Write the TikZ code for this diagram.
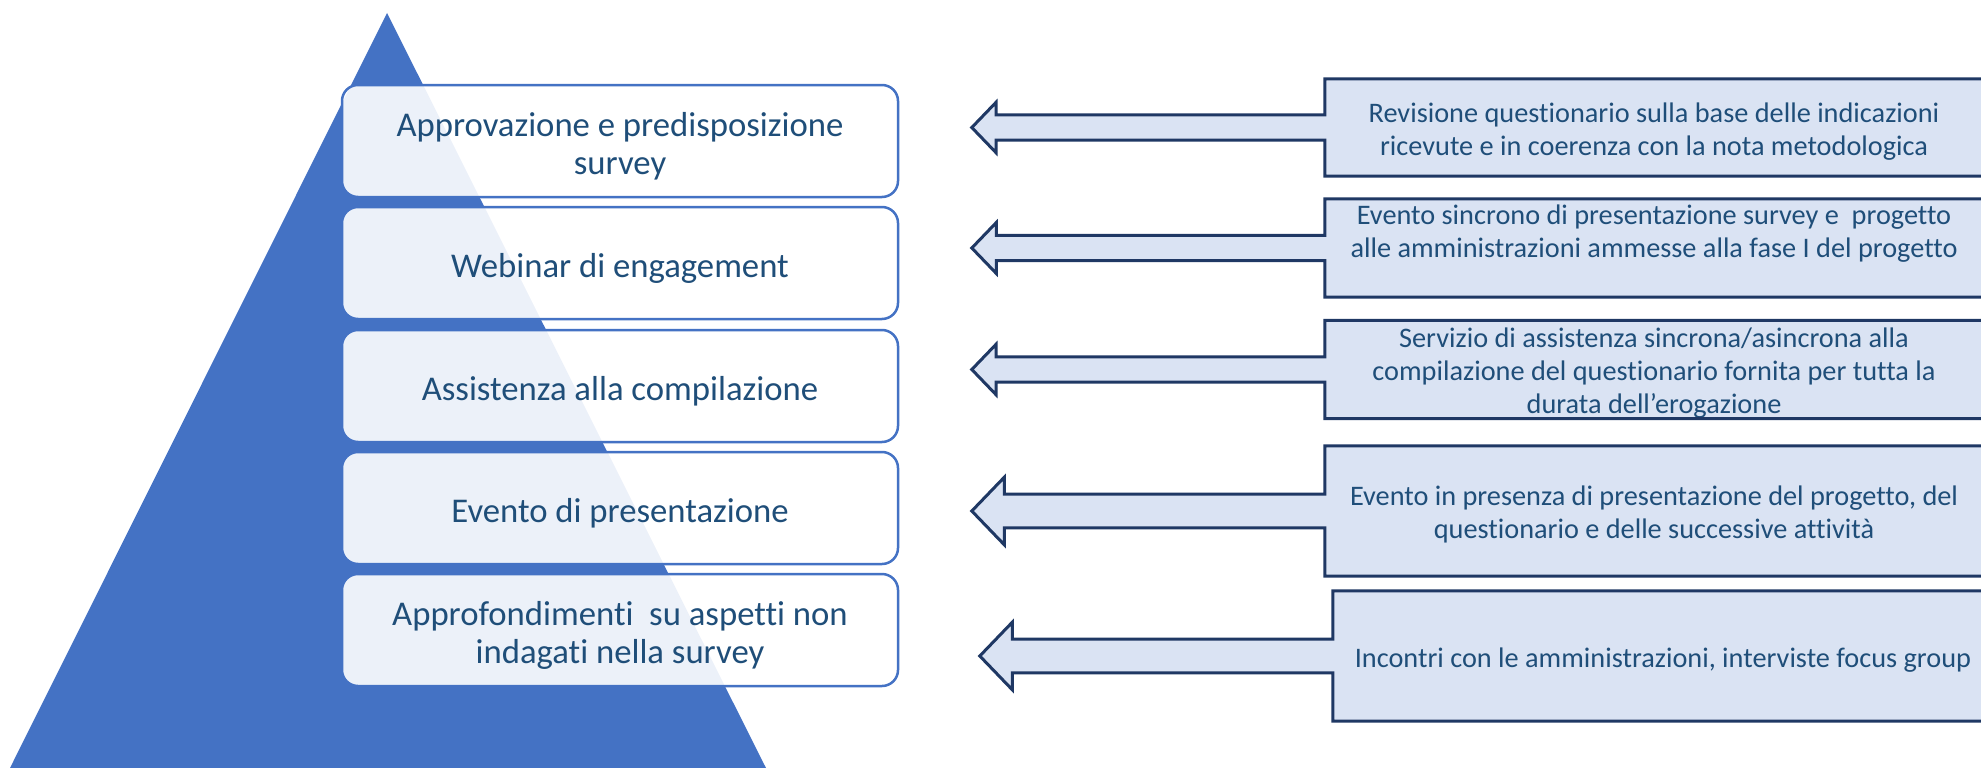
\documentclass[tikz,border=0pt]{standalone}
\usepackage{fontspec}
\setmainfont{Carlito}[Ligatures={NoCommon,NoRequired}]
\usetikzlibrary{calc}
\definecolor{pyrblue}{HTML}{4472C4}
\definecolor{navy}{HTML}{1F3864}
\definecolor{notefill}{HTML}{DAE3F3}
\definecolor{txtblue}{HTML}{1F4E79}
\tikzset{%
  lift/.style={execute at begin node={\rule{0pt}{#1}}},
  stepbox/.style={draw=pyrblue,line width=2.5pt,rounded corners=16pt,
    fill=white,fill opacity=0.9,text opacity=1,text=txtblue,align=center,
    minimum width=556pt,minimum height=112pt,inner sep=0pt,
    font=\fontsize{34.7}{38}\selectfont,lift=34pt},
  notebox/.style={fill=notefill,text=txtblue,align=center,inner sep=0pt,
    minimum width=658pt,font=\fontsize{28.3}{33}\selectfont,lift=27pt},
  callout/.style={draw=navy,line width=3pt,line join=miter}}

\begin{document}
\begin{tikzpicture}[x=1pt,y=-1pt]
  \useasboundingbox (0,0) rectangle (1981,768);
  \clip (0,0) rectangle (1981,768);
  % pyramid
  \fill[pyrblue] (387,13) -- (766,768) -- (10,768) -- cycle;
  % steps
  \node[stepbox,lift=72pt] (l1) at (620,141) {Approvazione e predisposizione\\survey};
  \node[stepbox] (l2) at (620,263) {Webinar di engagement};
  \node[stepbox] (l3) at (620,386) {Assistenza alla compilazione};
  \node[stepbox] (l4) at (620,508) {Evento di presentazione};
  \node[stepbox,lift=72pt] (l5) at (620,630) {Approfondimenti\ \ su aspetti non\\indagati nella survey};
  % notes
  \node[notebox,lift=60pt,minimum height=97pt] (r1) at (1654,127.5)
    {Revisione questionario sulla base delle indicazioni\\ricevute e in coerenza con la nota metodologica};
  \node[notebox,minimum height=98pt] (r2) at (1654,248)
    {Evento sincrono di presentazione survey e\ \ progetto\\alle amministrazioni ammesse alla fase I del progetto\\~};
  \node[notebox,lift=93pt,minimum height=97pt] (r3) at (1654,369.5)
    {Servizio di assistenza sincrona/asincrona alla\\compilazione del questionario fornita per tutta la\\durata dell’erogazione};
  \node[notebox,lift=60pt,minimum height=130pt] (r4) at (1654,511)
    {Evento in presenza di presentazione del progetto, del\\questionario e delle successive attività};
  \node[notebox,minimum height=130pt,minimum width=660pt] (r5) at (1663,656)
    {Incontri con le amministrazioni, interviste focus group};
  % callout arrows
  \foreach \n/\h in {r1/97,r2/98,r3/97,r4/130,r5/130}{
    \pgfmathsetmacro{\s}{0.13*\h}
    \pgfmathsetmacro{\a}{0.26*\h}
    \pgfmathsetmacro{\b}{353-0.25*\h}
    \fill[notefill] ($(\n.west)+(1,-\s)$) -- ($(\n.west)+(-\b,-\s)$)
      -- ($(\n.west)+(-\b,-\a)$) -- ($(\n.west)+(-353,0)$)
      -- ($(\n.west)+(-\b,\a)$) -- ($(\n.west)+(-\b,\s)$)
      -- ($(\n.west)+(1,\s)$) -- cycle;
    \draw[callout] ($(\n.north east)+(10,0)$) -- (\n.north west)
      -- ($(\n.west)+(0,-\s)$) -- ($(\n.west)+(-\b,-\s)$)
      -- ($(\n.west)+(-\b,-\a)$) -- ($(\n.west)+(-353,0)$)
      -- ($(\n.west)+(-\b,\a)$) -- ($(\n.west)+(-\b,\s)$)
      -- ($(\n.west)+(0,\s)$) -- (\n.south west)
      -- ($(\n.south east)+(10,0)$);
  }
\end{tikzpicture}
\end{document}
